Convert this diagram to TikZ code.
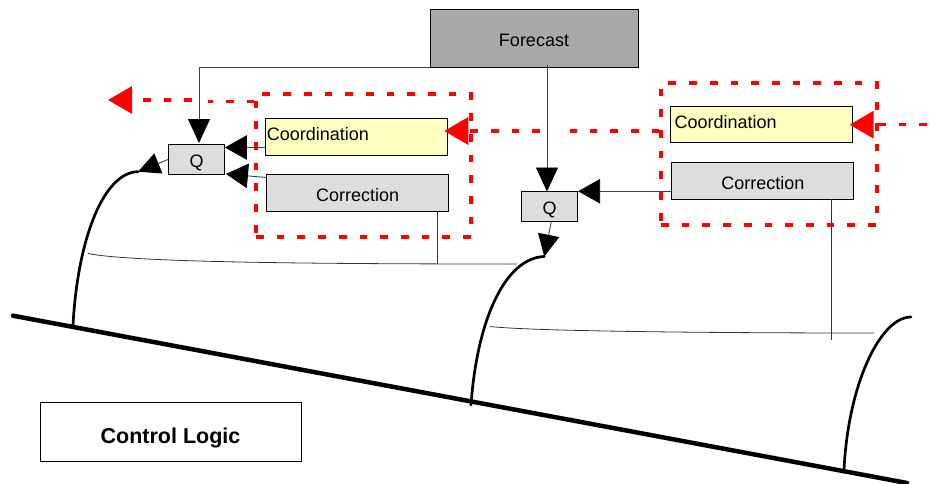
\documentclass[tikz,border=0pt]{standalone}
\usepackage{fontspec}
\setmainfont{Liberation Sans}
\usetikzlibrary{arrows.meta}
\definecolor{forecastgray}{HTML}{A9A9A9}
\definecolor{boxgray}{HTML}{DDDDDD}
\definecolor{coordyellow}{HTML}{FFFFC0}
\tikzset{
  block/.style={draw=black, line width=0.9pt, inner sep=0pt, text depth=0pt, font=\fontsize{18}{20}\selectfont},
  corrbox/.style={block, fill=boxgray, minimum width=182pt, minimum height=36.5pt, text height=17.6pt},
  coordbox/.style={block, fill=coordyellow, minimum width=182pt, minimum height=36.5pt, align=left},
  qbox/.style={block, fill=boxgray, minimum width=56pt, minimum height=30pt, text height=15.6pt},
  regionbox/.style={draw=red, line width=3.3pt, dash pattern=on 7.7pt off 13pt, inner sep=0pt},
  flowline/.style={line width=0.9pt, black!75, -{Triangle[length=22pt,width=24.5pt,black]}},
  flowdown/.style={line width=0.9pt, black!75, -{Triangle[length=24pt,width=22pt,black]}},
  flowplant/.style={line width=0.9pt, black!75, -{Triangle[length=22pt,width=21.5pt,black]}},
  redline/.style={draw=red, line width=3.3pt, dash pattern=on 7.7pt off 13pt},
  redarrow/.style={redline, -{Triangle[length=24pt,width=27pt,red]}},
  plant/.style={line width=2.7pt, line cap=round},
  measure/.style={line width=0.8pt, black!80},
}
\begin{document}
\begin{tikzpicture}[x=1pt,y=-1pt]
  \useasboundingbox (0,0) rectangle (939,483);

  % Regions
  \node[regionbox, minimum width=215pt, minimum height=143pt] (regionleft) at (363.5,165.5) {};
  \node[regionbox, minimum width=216pt, minimum height=142pt] (regionright) at (769,154) {};

  % Blocks
  \node[block, fill=forecastgray, minimum width=208pt, minimum height=57.5pt, text height=15.6pt] (forecast) at (534,38.5) {Forecast};
  \node[coordbox, text width=179pt, text height=6.6pt] (coordleft) at (356.3,137) {Coordination};
  \node[corrbox] (corrleft) at (357.7,192.7) {Correction};
  \node[qbox] (qleft) at (196.5,159.5) {Q};
  \node[coordbox, text width=174pt, text height=7.6pt] (coordright) at (761.7,124.5) {Coordination};
  \node[corrbox] (corrright) at (762.8,180.7) {Correction};
  \node[qbox] (qright) at (549.7,206.7) {Q};
  \node[draw=black, line width=0.8pt, inner sep=0pt, text depth=0pt, text height=23.5pt, minimum width=261pt, minimum height=59.5pt, font=\fontsize{21.5}{24}\selectfont\bfseries] (logic) at (170.5,431.7) {Control Logic};

  % Ground
  \coordinate (groundstart) at (13,315.7);
  \coordinate (groundend) at (907,483);
  \draw[line width=4.5pt, line cap=round] (groundstart) -- (groundend);

  % Plant sections
  \coordinate (basea) at (73,325);
  \coordinate (topa) at (138,171.7);
  \coordinate (baseb) at (471,405);
  \coordinate (topb) at (544.3,256.5);
  \coordinate (basec) at (844,470);
  \coordinate (topc) at (911,317);
  \draw[plant] (basea) .. controls (78,235) and (105,172) .. (topa);
  \draw[plant] (baseb) .. controls (477,320) and (505,258) .. (topb);
  \draw[plant] (basec) .. controls (848,385) and (880,317) .. (topc);

  % Measurements
  \coordinate (measa) at (88,253.5);
  \coordinate (measb) at (517,264);
  \coordinate (measc) at (490,326.5);
  \coordinate (measd) at (874,333);
  \coordinate (tapleft) at (437,264);
  \coordinate (tapright) at (831,340);
  \draw[measure] (measa) .. controls (130,262) and (300,264) .. (measb);
  \draw[measure] (measc) .. controls (530,331) and (700,333) .. (measd);
  \draw[measure] (corrleft.south -| tapleft) -- (tapleft);
  \draw[measure] (corrright.south -| tapright) -- (tapright);

  % Control flow
  \coordinate (qleftin) at (199,143);
  \coordinate (qrightin) at (547,191.5);
  \draw[flowdown] (forecast.south west) -| (qleftin);
  \draw[flowdown] ([yshift=3pt]forecast.south -| qrightin) -- (qrightin);
  \draw[flowline] (coordleft.west |- 0,147.5) -- (qleft.east |- 0,147.5);
  \draw[flowline] (corrleft.west |- 0,177.5) -- ([xshift=1pt,yshift=1pt]qleft.south east);
  \draw[flowline] (corrright.west |- qright.north) -- (qright.east |- qright.north);
  \draw[flowplant] (qleft.west) -- (topa);
  \draw[flowplant] ([xshift=1.5pt]qright.south) -- (topb);

  % Coordination signals
  \coordinate (farright) at (927,124.7);
  \coordinate (gapupper) at (208,101.7);
  \coordinate (gapupperb) at (192,100);
  \coordinate (exitleft) at (108,100);
  \coordinate (gapmid) at (570,131);
  \coordinate (gapmidb) at (540,131);
  \draw[redarrow] (farright) -- ([xshift=-3.5pt]coordright.east |- farright);
  \draw[redline] (regionright.west |- gapmid) -- (gapmid);
  \draw[redarrow] (gapmidb) -- ([xshift=-3.5pt]coordleft.east |- gapmid);
  \draw[redline] (regionleft.west |- gapupper) -- (gapupper);
  \draw[redarrow] (gapupperb) -- (exitleft);
\end{tikzpicture}
\end{document}
